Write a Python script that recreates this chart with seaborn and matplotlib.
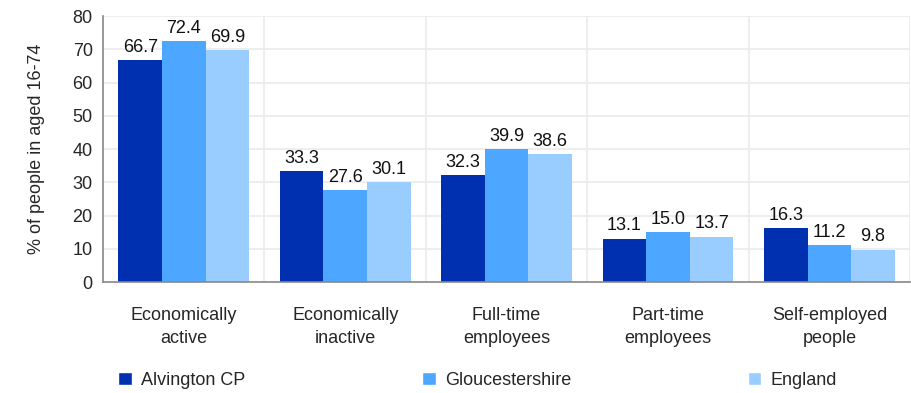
import pandas as pd
import matplotlib.pyplot as plt
import seaborn as sns
from matplotlib.patches import Patch

# Data
categories = ["Economically\nactive", "Economically\ninactive", "Full-time\nemployees",
              "Part-time\nemployees", "Self-employed\npeople"]
alvington = [66.7, 33.3, 32.3, 13.1, 16.3]
gloucestershire = [72.4, 27.6, 39.9, 15.0, 11.2]
england = [69.9, 30.1, 38.6, 13.7, 9.8]
series = ["Alvington CP", "Gloucestershire", "England"]
colors = ["#0030B0", "#4DA6FF", "#99CCFF"]

df = pd.DataFrame({
    "category": categories * 3,
    "area": [s for s in series for _ in categories],
    "value": alvington + gloucestershire + england,
})

sns.set_style("white")
plt.rcParams["font.family"] = ["Liberation Sans", "DejaVu Sans"]
fs = 13

fig = plt.figure(figsize=(9.12, 3.93), dpi=100)
ax = fig.add_axes([0.113, 0.282, 0.885, 0.677])

sns.barplot(data=df, x="category", y="value", hue="area", hue_order=series,
            palette=colors, width=0.81, saturation=1, linewidth=0, ax=ax, legend=False)

for cont in ax.containers:
    ax.bar_label(cont, fmt="%.1f", padding=3, fontsize=fs, color="#111111")

ax.set_xlim(-0.5, len(categories) - 0.5)
ax.set_ylim(0, 80)
ax.set_yticks(range(0, 81, 10))
ax.set_xlabel("")
ax.set_ylabel("% of people in aged 16-74", fontsize=fs, labelpad=20)

# category separators
ax.set_xticks([i + 0.5 for i in range(-1, len(categories))], minor=True)
ax.tick_params(axis="x", which="major", length=0, pad=18, labelsize=fs)
ax.tick_params(axis="x", which="minor", length=5, color="#888888")
ax.tick_params(axis="y", length=4, color="#888888", labelsize=fs)
for lbl in ax.get_xticklabels():
    lbl.set_linespacing(1.45)
ax.grid(axis="y", color="#EBEBEB", linewidth=1.2)
ax.grid(axis="x", which="minor", color="#EBEBEB", linewidth=1.2)
ax.set_axisbelow(True)
for s in ["top", "right"]:
    ax.spines[s].set_visible(False)
for s in ["left", "bottom"]:
    ax.spines[s].set_color("#888888")
    ax.spines[s].set_linewidth(1.2)

handles = [Patch(facecolor=c, label=s) for c, s in zip(colors, series)]
fig.legend(handles=handles, loc="lower left", bbox_to_anchor=(0.112, -0.03), ncol=3,
           frameon=False, fontsize=fs, handlelength=0.75, handleheight=0.75,
           handletextpad=0.5, columnspacing=9.8)

plt.savefig("out.png", dpi=100)
plt.close()
